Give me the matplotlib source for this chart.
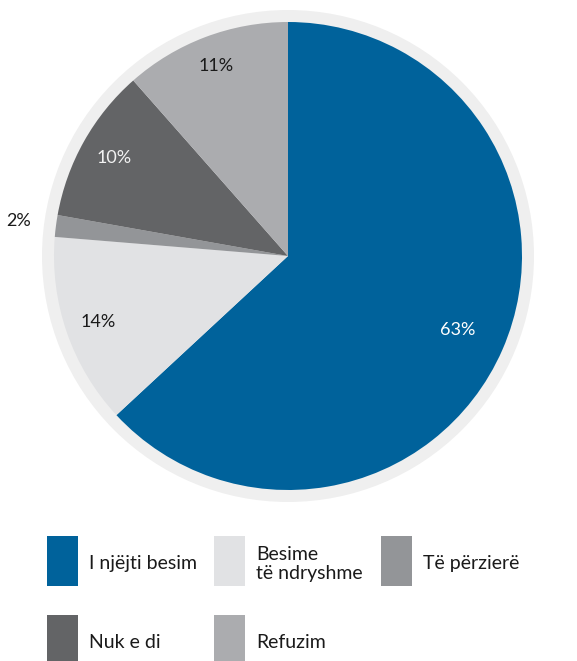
import numpy as np
import matplotlib.pyplot as plt
from matplotlib.patches import Circle, Rectangle

labels = ["I njëjti besim", "Besime\ntë ndryshme", "Të përzierë", "Nuk e di", "Refuzim"]
# slice sizes; printed labels below
shares = [63.1, 13.2, 1.5, 10.7, 11.5]
pct_labels = ["63%", "14%", "2%", "10%", "11%"]
colors = ["#00629b", "#e1e2e4", "#939598", "#636466", "#abacaf"]
pct_colors = ["white", "#1a1a1a", "#1a1a1a", "#f2f2f2", "#1a1a1a"]

plt.rcParams["font.family"] = ["Lato", "DejaVu Sans"]

W, H = 577, 661
fig = plt.figure(figsize=(W / 100, H / 100), dpi=100)
ax = fig.add_axes([0, 0, 1, 1])

cx, cy, r = 288, H - 256, 234

# light ring round the pie
ax.add_patch(Circle((cx, cy), r + 12, facecolor="#efefef", edgecolor="none", zorder=0))

wedges, _ = ax.pie(shares, colors=colors, startangle=90, counterclock=False,
                   center=(cx, cy), radius=r, wedgeprops=dict(linewidth=0), frame=False)
ax.set_xlim(0, W)
ax.set_ylim(0, H)
ax.set_aspect("equal")
ax.axis("off")

# percent labels, distance as fraction of radius
label_dist = [0.79, 0.86, 1.16, 0.855, 0.87]
for w, txt, d, c in zip(wedges, pct_labels, label_dist, pct_colors):
    mid = np.deg2rad((w.theta1 + w.theta2) / 2)
    ax.text(cx + d * r * np.cos(mid), cy + d * r * np.sin(mid), txt,
            ha="center", va="center", fontsize=13, color=c)

# legend drawn by hand, in pixel coords
col_x = [47, 214, 381]
row_y = [536, 615]
for i, (lab, c) in enumerate(zip(labels, colors)):
    x = col_x[i % 3]
    y = row_y[i // 3]
    ax.add_patch(Rectangle((x, H - y - 50), 31, 50, facecolor=c, edgecolor="none"))
    ax.text(x + 42, H - y - 28, lab, ha="left", va="center", fontsize=14,
            color="#1a1a1a", linespacing=1.1)

fig.savefig("out.png", dpi=100)
